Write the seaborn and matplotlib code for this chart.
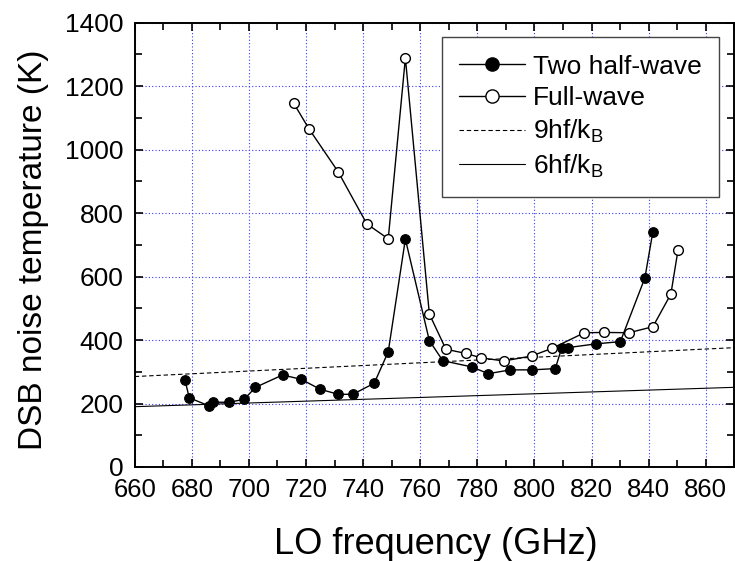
import matplotlib
matplotlib.use("Agg")
import matplotlib.pyplot as plt
import seaborn as sns
from matplotlib.lines import Line2D
from matplotlib.ticker import MultipleLocator

# Two half-wave (filled)
half_f = [677.6, 679.1, 685.9, 687.4, 692.9, 698.3, 702.3, 711.8, 718.4, 724.9,
          731.3, 736.4, 743.9, 748.8, 754.8, 763.2, 767.9, 778.2, 783.8, 791.6,
          799.1, 807.3, 809.6, 811.6, 821.6, 830.1, 838.7, 841.5]
half_t = [274, 218, 193, 204, 204, 213, 251, 290, 276, 245,
          229, 229, 264, 363, 718, 398, 335, 315, 294, 306,
          306, 310, 376, 376, 388, 395, 596, 742]

# Full-wave (open)
full_f = [715.7, 721.0, 731.2, 741.3, 748.8, 754.8, 763.2, 769.0, 775.9, 781.3,
          789.3, 799.1, 806.2, 817.5, 824.5, 833.1, 841.5, 847.8, 850.3]
full_t = [1146, 1066, 931, 766, 719, 1289, 482, 371, 358, 344,
          334, 350, 374, 423, 424, 423, 442, 545, 684]

# quantum-limit reference lines (end points)
ref_f = [660, 870]
t9 = [285, 376]
t6 = [190, 251]

sns.set_style("ticks")
plt.rcParams["font.family"] = ["Liberation Sans", "DejaVu Sans"]
plt.rcParams["mathtext.fontset"] = "custom"
plt.rcParams["mathtext.rm"] = "Liberation Sans"
plt.rcParams["mathtext.it"] = "Liberation Sans"
for key in ["text.color", "axes.labelcolor", "xtick.color", "ytick.color"]:
    plt.rcParams[key] = "black"

DASH = (0, (4, 2.5))

fig = plt.figure(figsize=(7.35, 5.61), dpi=100)
ax = fig.add_axes([0.1833, 0.1676, 0.8157, 0.7919])

ax.grid(True, which="major", color="#3a3aff", linestyle=(0, (1, 2)), linewidth=0.8)
ax.set_axisbelow(True)

sns.lineplot(x=ref_f, y=t9, ax=ax, color="black", linewidth=0.8, legend=False)
ax.lines[-1].set_linestyle(DASH)
sns.lineplot(x=ref_f, y=t6, ax=ax, color="black", linewidth=0.8, legend=False)

sns.lineplot(x=half_f, y=half_t, ax=ax, color="black", linewidth=1.0,
             marker="o", markersize=7, markerfacecolor="black",
             markeredgecolor="black", estimator=None, sort=False, legend=False)
sns.lineplot(x=full_f, y=full_t, ax=ax, color="black", linewidth=1.0,
             marker="o", markersize=7, markerfacecolor="white",
             markeredgecolor="black", markeredgewidth=1.0,
             estimator=None, sort=False, legend=False)

ax.set_xlim(660, 870)
ax.set_ylim(0, 1400)
ax.xaxis.set_major_locator(MultipleLocator(20))
ax.xaxis.set_minor_locator(MultipleLocator(10))
ax.yaxis.set_major_locator(MultipleLocator(200))
ax.yaxis.set_minor_locator(MultipleLocator(100))
ax.tick_params(which="both", direction="in", top=True, right=True, width=1.2,
               color="black", labelcolor="black")
ax.tick_params(which="major", length=6)
ax.tick_params(which="minor", length=5)
ax.tick_params(axis="x", labelsize=18.5, pad=8)
ax.tick_params(axis="y", labelsize=19, pad=8)
for s in ax.spines.values():
    s.set_linewidth(1.4)
    s.set_color("black")

ax.set_xlabel("LO frequency (GHz)", fontsize=26, color="black")
ax.set_ylabel("DSB noise temperature (K)", fontsize=24, color="black")
ax.xaxis.set_label_coords(0.502, -0.136)
ax.yaxis.set_label_coords(-0.1426, 0.488)

handles = [
    Line2D([], [], color="black", lw=1, marker="o", markersize=9.5,
           markerfacecolor="black", markeredgecolor="black"),
    Line2D([], [], color="black", lw=1, marker="o", markersize=9.5,
           markerfacecolor="white", markeredgecolor="black"),
    Line2D([], [], color="black", lw=0.8, linestyle=DASH),
    Line2D([], [], color="black", lw=0.8),
]
labels = ["Two half-wave", "Full-wave", r"9hf/k$_\mathregular{B}$", r"6hf/k$_\mathregular{B}$"]
leg = ax.legend(handles, labels, loc="upper right", bbox_to_anchor=(0.974, 0.967),
                fontsize=19, frameon=True, fancybox=False, handlelength=2.5,
                handletextpad=0.3, borderpad=0.65, labelspacing=0.29,
                borderaxespad=0, framealpha=1, labelcolor="black")
leg.get_frame().set_edgecolor("#444444")
leg.get_frame().set_linewidth(1.0)

fig.savefig("out.png", dpi=100)
